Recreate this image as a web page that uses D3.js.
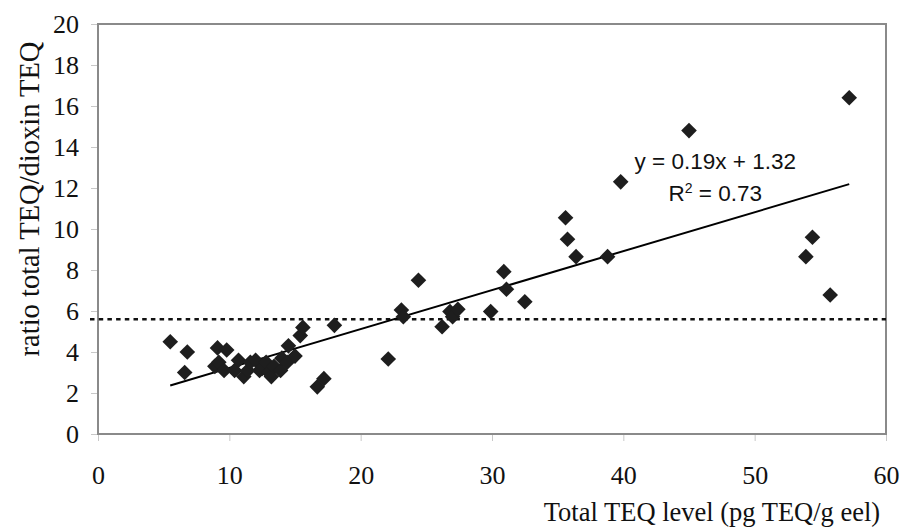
<!DOCTYPE html>
<html>
<head>
<meta charset="utf-8">
<script src="https://cdn.jsdelivr.net/npm/d3@7"></script>
<style>
  body { margin: 0; background: #fff; }
  svg { display: block; }
  .axis text { font-family: "Liberation Serif", "Times New Roman", serif; font-size: 26px; fill: #111; }
  .axis .tick line { stroke: #c8c8c8; }
  .axis .domain { display: none; }
</style>
</head>
<body>
<svg id="chart"></svg>
<script>
// values
const teq_level = [5.5, 6.8, 6.6, 9.1, 9.8, 8.9, 9.2, 9.6, 10.4, 10.7, 11.1, 11.4, 11.6, 12.0, 12.3, 12.5, 12.8, 13.0, 13.2, 13.4, 13.9, 14.0, 14.4, 14.5, 15.0, 15.4, 15.6, 18.0, 16.7, 17.2,
    22.1, 24.4, 23.1, 23.25, 26.2, 26.8, 27.0, 27.4, 29.9, 30.9, 31.1, 32.5,
    35.6, 35.75, 36.4, 38.8, 39.8, 45.0, 53.9, 54.4, 55.75, 57.2];
const teq_ratio = [4.5, 4.0, 3.0, 4.2, 4.1, 3.3, 3.5, 3.1, 3.1, 3.6, 2.8, 3.1, 3.5, 3.6, 3.1, 3.2, 3.5, 3.0, 2.8, 3.3, 3.1, 3.7, 3.5, 4.3, 3.8, 4.8, 5.2, 5.3, 2.3, 2.7,
    3.66, 7.5, 6.05, 5.72, 5.23, 5.97, 5.72, 6.08, 5.97, 7.92, 7.06, 6.45,
    10.55, 9.5, 8.65, 8.65, 12.3, 14.8, 8.65, 9.6, 6.78, 16.4];
const x_ticks = [0, 10, 20, 30, 40, 50, 60];
const y_ticks = [0, 2, 4, 6, 8, 10, 12, 14, 16, 18, 20];
const trend = {slope: 0.19, intercept: 1.32, from: 5.5, to: 57.2};
const reference_ratio = 5.6;

const margin = {top: 24, right: 18, bottom: 97, left: 98},
    width = 904 - margin.left - margin.right,
    height = 531 - margin.top - margin.bottom;

const svg = d3.select("#chart")
    .attr("width", 904)
    .attr("height", 531)
    .append("g")
    .attr("transform", "translate(" + margin.left + "," + margin.top + ")");

const xScale = d3.scaleLinear().domain([0, 60]).range([0, width]);
const yScale = d3.scaleLinear().domain([0, 20]).range([height, 0]);

// axes
svg.append("g")
    .attr("class", "axis x-axis")
    .attr("transform", "translate(0," + height + ")")
    .call(d3.axisBottom(xScale).tickValues(x_ticks).tickSize(7).tickPadding(25).tickFormat(d3.format("d")));

svg.append("g")
    .attr("class", "axis y-axis")
    .call(d3.axisLeft(yScale).tickValues(y_ticks).tickSize(7).tickPadding(12).tickFormat(d3.format("d")));

svg.selectAll(".y-axis text").attr("dy", "0.34em");

// plot frame
svg.append("rect")
    .attr("x", 0).attr("y", 0)
    .attr("width", width).attr("height", height)
    .attr("fill", "none")
    .attr("stroke", "#8a8a8a")
    .attr("stroke-width", 2);

// dotted reference line
svg.append("line")
    .attr("x1", -8).attr("x2", width)
    .attr("y1", yScale(reference_ratio)).attr("y2", yScale(reference_ratio))
    .attr("stroke", "#111")
    .attr("stroke-width", 2.5)
    .attr("stroke-dasharray", "4.5,4.2");

// trend line
svg.append("line")
    .attr("x1", xScale(trend.from)).attr("y1", yScale(trend.slope * trend.from + trend.intercept))
    .attr("x2", xScale(trend.to)).attr("y2", yScale(trend.slope * trend.to + trend.intercept))
    .attr("stroke", "#000")
    .attr("stroke-width", 2);

// points
const points = teq_level.map(function (d, i) { return {x: d, y: teq_ratio[i]}; });
svg.selectAll(".dot")
    .data(points)
    .enter().append("path")
    .attr("class", "dot")
    .attr("d", d3.symbol(d3.symbolSquare, 122))
    .attr("transform", function (d) { return "translate(" + xScale(d.x) + "," + yScale(d.y) + ") rotate(45)"; })
    .attr("fill", "#1e1e1e");

// equation
const eq = svg.append("text")
    .attr("font-family", "Liberation Sans, Arial, sans-serif")
    .attr("font-size", 22.5)
    .attr("fill", "#111")
    .attr("text-anchor", "middle");
eq.append("tspan").attr("x", xScale(47.0)).attr("y", 145).text("y = 0.19x + 1.32");
const r2 = eq.append("tspan").attr("x", xScale(47.0)).attr("y", 177);
r2.append("tspan").text("R");
r2.append("tspan").attr("font-size", 14).attr("dy", -8).text("2");
r2.append("tspan").attr("dy", 8).text(" = 0.73");

// axis titles
svg.append("text")
    .attr("font-family", "Liberation Serif, Times New Roman, serif")
    .attr("font-size", 26.5)
    .attr("fill", "#111")
    .attr("text-anchor", "middle")
    .attr("x", 712 - margin.left)
    .attr("y", height + 87)
    .text("Total TEQ level (pg TEQ/g eel)");

svg.append("text")
    .attr("font-family", "Liberation Serif, Times New Roman, serif")
    .attr("font-size", 28.5)
    .attr("fill", "#111")
    .attr("text-anchor", "middle")
    .attr("transform", "translate(" + (-59) + "," + (199 - margin.top) + ") rotate(-90)")
    .text("ratio total TEQ/dioxin TEQ");
</script>
</body>
</html>
